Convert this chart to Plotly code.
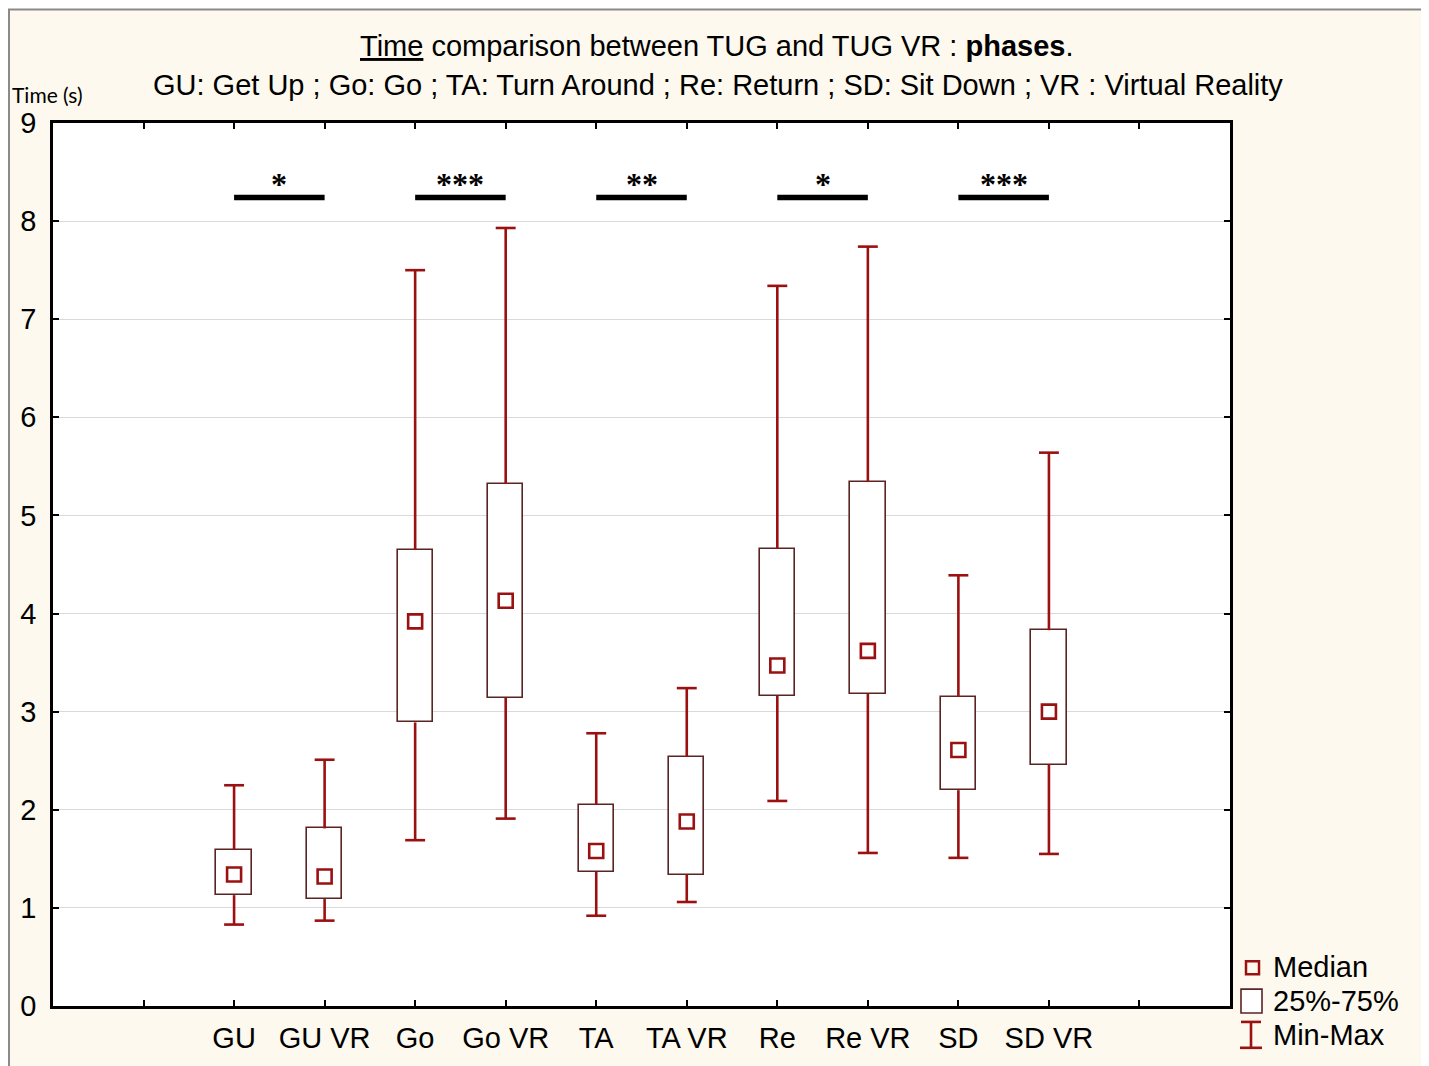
import plotly.graph_objects as go

categories = ["GU", "GU VR", "Go", "Go VR", "TA", "TA VR", "Re", "Re VR", "SD", "SD VR"]
positions = [2, 3, 4, 5, 6, 7, 8, 9, 10, 11]
v_min = [0.83, 0.87, 1.69, 1.91, 0.92, 1.06, 2.09, 1.56, 1.51, 1.55]
v_q1 = [1.13, 1.09, 2.89, 3.14, 1.37, 1.34, 3.16, 3.18, 2.20, 2.46]
v_median = [1.34, 1.32, 3.92, 4.13, 1.58, 1.88, 3.47, 3.62, 2.61, 3.00]
v_q3 = [1.59, 1.81, 4.65, 5.32, 2.05, 2.54, 4.66, 5.34, 3.15, 3.83]
v_max = [2.25, 2.51, 7.50, 7.93, 2.78, 3.24, 7.34, 7.74, 4.39, 5.64]

sig_start = [2, 4, 6, 8, 10]
sig_end = [3, 5, 7, 9, 11]
sig_labels = ["*", "***", "**", "*", "***"]
sig_level = 8.24

y_ticks = [0, 1, 2, 3, 4, 5, 6, 7, 8, 9]
x_ticks = list(range(1, 13))
x_ticktext = [""] + categories + [""]

RED = "#9b1010"
BOXC = "#5a2424"
BOX_W = 0.39
CAP_W = 0.22

fig = go.Figure()

# boxes (25%-75%)
fig.add_trace(go.Bar(
    x=positions, y=[q3 - q1 for q1, q3 in zip(v_q1, v_q3)], base=v_q1,
    width=BOX_W, marker=dict(color="white", line=dict(color=BOXC, width=1.6)),
    showlegend=False, hoverinfo="skip"))

# whiskers and caps
wx, wy = [], []
for p, lo, q1, q3, hi in zip(positions, v_min, v_q1, v_q3, v_max):
    wx += [p, p, None, p, p, None]
    wy += [q3, hi, None, q1, lo, None]
    wx += [p - CAP_W / 2, p + CAP_W / 2, None, p - CAP_W / 2, p + CAP_W / 2, None]
    wy += [hi, hi, None, lo, lo, None]
fig.add_trace(go.Scatter(x=wx, y=wy, mode="lines", line=dict(color=RED, width=2.6),
                         showlegend=False, hoverinfo="skip"))

# medians
fig.add_trace(go.Scatter(x=positions, y=v_median, mode="markers",
                         marker=dict(symbol="square-open", size=14, color=RED,
                                     line=dict(width=2.6, color=RED)),
                         showlegend=False))

# significance bars
sx, sy = [], []
for a, b in zip(sig_start, sig_end):
    sx += [a, b, None]
    sy += [sig_level, sig_level, None]
fig.add_trace(go.Scatter(x=sx, y=sy, mode="lines", line=dict(color="black", width=5.5),
                         showlegend=False, hoverinfo="skip"))
for a, b, t in zip(sig_start, sig_end, sig_labels):
    fig.add_annotation(x=(a + b) / 2, y=sig_level, yshift=-6, text="<b>" + t + "</b>",
                       showarrow=False, yanchor="bottom",
                       font=dict(family="Liberation Serif", size=32, color="black"))


# helpers: viewport pixel -> paper coords (plot area is 53..1230 x, 122..1009 y)
def px_x(v):
    return (v - 53) / 1177


def px_y(v):
    return (1009 - v) / 887


# frame background
fig.add_shape(type="rect", xref="paper", yref="paper", x0=px_x(9), x1=px_x(1426),
              y0=px_y(1080), y1=px_y(8), fillcolor="#fdf9ee",
              line=dict(color="#8a8a8a", width=2), layer="below")
fig.add_shape(type="rect", xref="paper", yref="paper", x0=0, x1=1, y0=0, y1=1,
              fillcolor="white", line=dict(width=0), layer="below")

# titles
fig.add_annotation(xref="paper", yref="paper", x=px_x(717), y=px_y(45),
                   text="<u>Time</u> comparison between TUG and TUG VR : <b>phases</b>.",
                   showarrow=False, xanchor="center", yanchor="middle",
                   font=dict(family="Liberation Sans", size=29, color="black"))
fig.add_annotation(xref="paper", yref="paper", x=px_x(718), y=px_y(84),
                   text="GU: Get Up ; Go: Go ; TA: Turn Around ; Re: Return ; SD: Sit Down ; VR : Virtual Reality",
                   showarrow=False, xanchor="center", yanchor="middle",
                   font=dict(family="Liberation Sans", size=29, color="black"))
fig.add_annotation(xref="paper", yref="paper", x=px_x(10), y=px_y(93),
                   text="Time (s)", showarrow=False, xanchor="left", yanchor="middle",
                   font=dict(family="Lato", size=21, color="black"))

# legend (custom)
fig.add_shape(type="rect", xref="paper", yref="paper", x0=px_x(1246), x1=px_x(1259),
              y0=px_y(977), y1=px_y(964), line=dict(color=RED, width=2.5))
fig.add_shape(type="rect", xref="paper", yref="paper", x0=px_x(1241), x1=px_x(1262),
              y0=px_y(1016), y1=px_y(992), line=dict(color=BOXC, width=1.6), fillcolor="white")
fig.add_shape(type="line", xref="paper", yref="paper", x0=px_x(1251), x1=px_x(1251),
              y0=px_y(1025), y1=px_y(1051), line=dict(color=RED, width=2.6))
fig.add_shape(type="line", xref="paper", yref="paper", x0=px_x(1241), x1=px_x(1261),
              y0=px_y(1025), y1=px_y(1025), line=dict(color=RED, width=2.6))
fig.add_shape(type="line", xref="paper", yref="paper", x0=px_x(1240), x1=px_x(1262),
              y0=px_y(1051), y1=px_y(1051), line=dict(color=RED, width=2.6))
for txt, yy in [("Median", 970), ("25%-75%", 1004), ("Min-Max", 1038)]:
    fig.add_annotation(xref="paper", yref="paper", x=px_x(1271), y=px_y(yy), text=txt,
                       showarrow=False, xanchor="left", yanchor="middle",
                       font=dict(family="Liberation Sans", size=29, color="black"))

# the page adds a body margin, so the figure is offset a few px in the viewport
fig.update_layout(
    width=1421, height=1058,
    margin=dict(l=45, r=199, t=115, b=55),
    paper_bgcolor="white", plot_bgcolor="white",
    font=dict(family="Liberation Sans", size=29, color="black"),
    bargap=0, showlegend=False,
)
fig.update_xaxes(range=[0, 13], tickvals=x_ticks, ticktext=x_ticktext, ticks="inside",
                 ticklen=6, tickwidth=2, tickcolor="black", showline=True, linecolor="black",
                 linewidth=2.5, mirror="allticks", showgrid=False, zeroline=False,
                 tickfont=dict(size=29), ticklabelstandoff=4)
fig.update_yaxes(range=[0, 9], tickvals=y_ticks, ticks="inside", ticklen=6, tickwidth=2,
                 tickcolor="black", showline=True, linecolor="black", linewidth=2.5,
                 mirror="allticks", showgrid=True, gridcolor="#d9d9d9", gridwidth=1.2,
                 zeroline=False, tickfont=dict(size=29), ticklabelstandoff=8)

fig.write_html("out.html")
